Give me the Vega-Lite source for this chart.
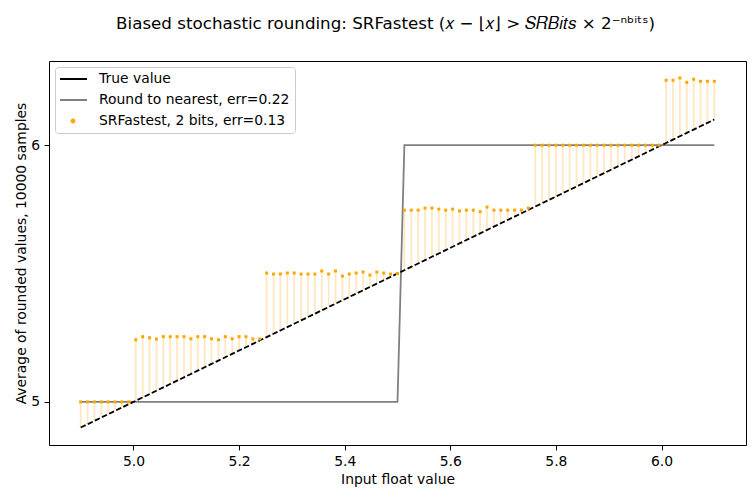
{
  "$schema": "https://vega.github.io/schema/vega-lite/v6.json",
  "autosize": "none",
  "width": 697,
  "height": 384,
  "padding": {"left": 49, "top": 61, "right": 9, "bottom": 53},
  "config": {
    "font": "DejaVu Sans",
    "view": {"stroke": "black", "strokeWidth": 1},
    "axis": {"domain": false, "grid": false, "tickColor": "black", "tickSize": 4.9, "tickWidth": 1, "labelPadding": 3.5, "labelFontSize": 13.9, "labelColor": "black", "titleFontSize": 13.9, "titleFontWeight": "normal", "titleColor": "black", "labelFont": "DejaVu Sans", "titleFont": "DejaVu Sans"},
    "legend": {"labelFont": "DejaVu Sans", "labelFontSize": 13.9, "labelColor": "black"}
  },
  "title": {
    "text": "Biased stochastic rounding: SRFastest (𝑥 − ⌊𝑥⌋ > 𝑆𝑅𝐵𝑖𝑡𝑠 × 2⁻ⁿᵇⁱᵗˢ)",
    "font": "DejaVu Sans",
    "fontSize": 16.7,
    "fontWeight": "normal",
    "color": "black",
    "anchor": "middle",
    "frame": "group",
    "dx": -12,
    "offset": 28
  },
  "data": {
    "values": [
      {"x": 4.9, "true": 4.9, "rtn": 5, "sr": 5.0},
      {"x": 4.91304, "true": 4.91304, "rtn": 5, "sr": 5.0},
      {"x": 4.92609, "true": 4.92609, "rtn": 5, "sr": 5.0},
      {"x": 4.93913, "true": 4.93913, "rtn": 5, "sr": 5.0},
      {"x": 4.95217, "true": 4.95217, "rtn": 5, "sr": 5.0},
      {"x": 4.96522, "true": 4.96522, "rtn": 5, "sr": 5.0},
      {"x": 4.97826, "true": 4.97826, "rtn": 5, "sr": 5.0},
      {"x": 4.9913, "true": 4.9913, "rtn": 5, "sr": 5.0},
      {"x": 5.00435, "true": 5.00435, "rtn": 5, "sr": 5.242},
      {"x": 5.01739, "true": 5.01739, "rtn": 5, "sr": 5.254},
      {"x": 5.03043, "true": 5.03043, "rtn": 5, "sr": 5.25},
      {"x": 5.04348, "true": 5.04348, "rtn": 5, "sr": 5.245},
      {"x": 5.05652, "true": 5.05652, "rtn": 5, "sr": 5.254},
      {"x": 5.06957, "true": 5.06957, "rtn": 5, "sr": 5.254},
      {"x": 5.08261, "true": 5.08261, "rtn": 5, "sr": 5.254},
      {"x": 5.09565, "true": 5.09565, "rtn": 5, "sr": 5.254},
      {"x": 5.1087, "true": 5.1087, "rtn": 5, "sr": 5.246},
      {"x": 5.12174, "true": 5.12174, "rtn": 5, "sr": 5.254},
      {"x": 5.13478, "true": 5.13478, "rtn": 5, "sr": 5.254},
      {"x": 5.14783, "true": 5.14783, "rtn": 5, "sr": 5.246},
      {"x": 5.16087, "true": 5.16087, "rtn": 5, "sr": 5.242},
      {"x": 5.17391, "true": 5.17391, "rtn": 5, "sr": 5.254},
      {"x": 5.18696, "true": 5.18696, "rtn": 5, "sr": 5.246},
      {"x": 5.2, "true": 5.2, "rtn": 5, "sr": 5.254},
      {"x": 5.21304, "true": 5.21304, "rtn": 5, "sr": 5.254},
      {"x": 5.22609, "true": 5.22609, "rtn": 5, "sr": 5.245},
      {"x": 5.23913, "true": 5.23913, "rtn": 5, "sr": 5.245},
      {"x": 5.25217, "true": 5.25217, "rtn": 5, "sr": 5.502},
      {"x": 5.26522, "true": 5.26522, "rtn": 5, "sr": 5.498},
      {"x": 5.27826, "true": 5.27826, "rtn": 5, "sr": 5.498},
      {"x": 5.2913, "true": 5.2913, "rtn": 5, "sr": 5.502},
      {"x": 5.30435, "true": 5.30435, "rtn": 5, "sr": 5.502},
      {"x": 5.31739, "true": 5.31739, "rtn": 5, "sr": 5.498},
      {"x": 5.33043, "true": 5.33043, "rtn": 5, "sr": 5.498},
      {"x": 5.34348, "true": 5.34348, "rtn": 5, "sr": 5.498},
      {"x": 5.35652, "true": 5.35652, "rtn": 5, "sr": 5.51},
      {"x": 5.36957, "true": 5.36957, "rtn": 5, "sr": 5.498},
      {"x": 5.38261, "true": 5.38261, "rtn": 5, "sr": 5.51},
      {"x": 5.39565, "true": 5.39565, "rtn": 5, "sr": 5.49},
      {"x": 5.4087, "true": 5.4087, "rtn": 5, "sr": 5.498},
      {"x": 5.42174, "true": 5.42174, "rtn": 5, "sr": 5.502},
      {"x": 5.43478, "true": 5.43478, "rtn": 5, "sr": 5.506},
      {"x": 5.44783, "true": 5.44783, "rtn": 5, "sr": 5.494},
      {"x": 5.46087, "true": 5.46087, "rtn": 5, "sr": 5.506},
      {"x": 5.47391, "true": 5.47391, "rtn": 5, "sr": 5.502},
      {"x": 5.48696, "true": 5.48696, "rtn": 5, "sr": 5.498},
      {"x": 5.5, "true": 5.5, "rtn": 5, "sr": 5.5},
      {"x": 5.51304, "true": 5.51304, "rtn": 6, "sr": 5.747},
      {"x": 5.52609, "true": 5.52609, "rtn": 6, "sr": 5.747},
      {"x": 5.53913, "true": 5.53913, "rtn": 6, "sr": 5.747},
      {"x": 5.55217, "true": 5.55217, "rtn": 6, "sr": 5.755},
      {"x": 5.56522, "true": 5.56522, "rtn": 6, "sr": 5.755},
      {"x": 5.57826, "true": 5.57826, "rtn": 6, "sr": 5.751},
      {"x": 5.5913, "true": 5.5913, "rtn": 6, "sr": 5.747},
      {"x": 5.60435, "true": 5.60435, "rtn": 6, "sr": 5.751},
      {"x": 5.61739, "true": 5.61739, "rtn": 6, "sr": 5.744},
      {"x": 5.63043, "true": 5.63043, "rtn": 6, "sr": 5.747},
      {"x": 5.64348, "true": 5.64348, "rtn": 6, "sr": 5.747},
      {"x": 5.65652, "true": 5.65652, "rtn": 6, "sr": 5.741},
      {"x": 5.66957, "true": 5.66957, "rtn": 6, "sr": 5.759},
      {"x": 5.68261, "true": 5.68261, "rtn": 6, "sr": 5.747},
      {"x": 5.69565, "true": 5.69565, "rtn": 6, "sr": 5.747},
      {"x": 5.7087, "true": 5.7087, "rtn": 6, "sr": 5.747},
      {"x": 5.72174, "true": 5.72174, "rtn": 6, "sr": 5.747},
      {"x": 5.73478, "true": 5.73478, "rtn": 6, "sr": 5.747},
      {"x": 5.74783, "true": 5.74783, "rtn": 6, "sr": 5.755},
      {"x": 5.76087, "true": 5.76087, "rtn": 6, "sr": 6.0},
      {"x": 5.77391, "true": 5.77391, "rtn": 6, "sr": 6.0},
      {"x": 5.78696, "true": 5.78696, "rtn": 6, "sr": 6.0},
      {"x": 5.8, "true": 5.8, "rtn": 6, "sr": 6.0},
      {"x": 5.81304, "true": 5.81304, "rtn": 6, "sr": 6.0},
      {"x": 5.82609, "true": 5.82609, "rtn": 6, "sr": 6.0},
      {"x": 5.83913, "true": 5.83913, "rtn": 6, "sr": 6.0},
      {"x": 5.85217, "true": 5.85217, "rtn": 6, "sr": 6.0},
      {"x": 5.86522, "true": 5.86522, "rtn": 6, "sr": 6.0},
      {"x": 5.87826, "true": 5.87826, "rtn": 6, "sr": 6.0},
      {"x": 5.8913, "true": 5.8913, "rtn": 6, "sr": 6.0},
      {"x": 5.90435, "true": 5.90435, "rtn": 6, "sr": 6.0},
      {"x": 5.91739, "true": 5.91739, "rtn": 6, "sr": 6.0},
      {"x": 5.93043, "true": 5.93043, "rtn": 6, "sr": 6.0},
      {"x": 5.94348, "true": 5.94348, "rtn": 6, "sr": 6.0},
      {"x": 5.95652, "true": 5.95652, "rtn": 6, "sr": 6.0},
      {"x": 5.96957, "true": 5.96957, "rtn": 6, "sr": 6.0},
      {"x": 5.98261, "true": 5.98261, "rtn": 6, "sr": 6.0},
      {"x": 5.99565, "true": 5.99565, "rtn": 6, "sr": 6.0},
      {"x": 6.0087, "true": 6.0087, "rtn": 6, "sr": 6.253},
      {"x": 6.02174, "true": 6.02174, "rtn": 6, "sr": 6.253},
      {"x": 6.03478, "true": 6.03478, "rtn": 6, "sr": 6.262},
      {"x": 6.04783, "true": 6.04783, "rtn": 6, "sr": 6.245},
      {"x": 6.06087, "true": 6.06087, "rtn": 6, "sr": 6.257},
      {"x": 6.07391, "true": 6.07391, "rtn": 6, "sr": 6.249},
      {"x": 6.08696, "true": 6.08696, "rtn": 6, "sr": 6.249},
      {"x": 6.1, "true": 6.1, "rtn": 6, "sr": 6.249}
    ]
  },
  "encoding": {
    "x": {
      "field": "x", "type": "quantitative",
      "scale": {"domain": [4.84, 6.16], "nice": false, "zero": false},
      "axis": {"title": "Input float value", "values": [5.0, 5.2, 5.4, 5.6, 5.8, 6.0], "format": ".1f", "titlePadding": 4, "labelPadding": 4.5}
    }
  },
  "layer": [
    {
      "mark": {"type": "rule", "color": "orange", "opacity": 0.25, "strokeWidth": 1.8},
      "encoding": {
        "y": {"field": "true", "type": "quantitative", "scale": {"domain": [4.832, 6.328], "nice": false, "zero": false},
          "axis": {"title": "Average of rounded values, 10000 samples", "values": [5, 6], "format": "d", "titlePadding": 2, "labelPadding": 4.5}},
        "y2": {"field": "sr"}
      }
    },
    {
      "mark": {"type": "line", "strokeWidth": 1.8, "interpolate": "linear"},
      "encoding": {
        "y": {"field": "rtn", "type": "quantitative"},
        "color": {
          "datum": "Round to nearest, err=0.22", "type": "nominal",
          "scale": {"domain": ["True value", "Round to nearest, err=0.22", "SRFastest, 2 bits, err=0.13"], "range": ["black", "gray", "orange"]},
          "legend": {
            "title": null,
            "orient": "top-left",
            "offset": 6,
            "padding": 5,
            "strokeColor": "#cccccc",
            "fillColor": "white",
            "cornerRadius": 3,
            "symbolType": "stroke",
            "symbolSize": 784,
            "symbolStrokeWidth": 1.8,
            "symbolOffset": -2,
            "clipHeight": 14,
            "labelOffset": 11,
            "labelLimit": 400,
            "rowPadding": 7,
            "encode": {
              "symbols": {
                "update": {
                  "shape": {"signal": "datum.value === 'SRFastest, 2 bits, err=0.13' ? 'circle' : 'stroke'"},
                  "size": {"signal": "datum.value === 'SRFastest, 2 bits, err=0.13' ? 9 : 784"},
                  "fill": {"signal": "datum.value === 'SRFastest, 2 bits, err=0.13' ? 'orange' : 'transparent'"},
                  "stroke": {"signal": "datum.value === 'SRFastest, 2 bits, err=0.13' ? 'transparent' : (datum.value === 'True value' ? 'black' : 'gray')"},
                  "strokeWidth": {"value": 1.8},
                  "opacity": {"value": 1}
                }
              }
            }
          }
        }
      }
    },
    {
      "mark": {"type": "line", "strokeWidth": 1.8, "strokeDash": [5.5, 2.4]},
      "encoding": {
        "y": {"field": "true", "type": "quantitative"},
        "color": {"datum": "True value", "type": "nominal"}
      }
    },
    {
      "mark": {"type": "point", "filled": true, "shape": "square", "size": 9, "opacity": 1},
      "encoding": {
        "y": {"field": "sr", "type": "quantitative"},
        "color": {"datum": "SRFastest, 2 bits, err=0.13", "type": "nominal"}
      }
    }
  ]
}
